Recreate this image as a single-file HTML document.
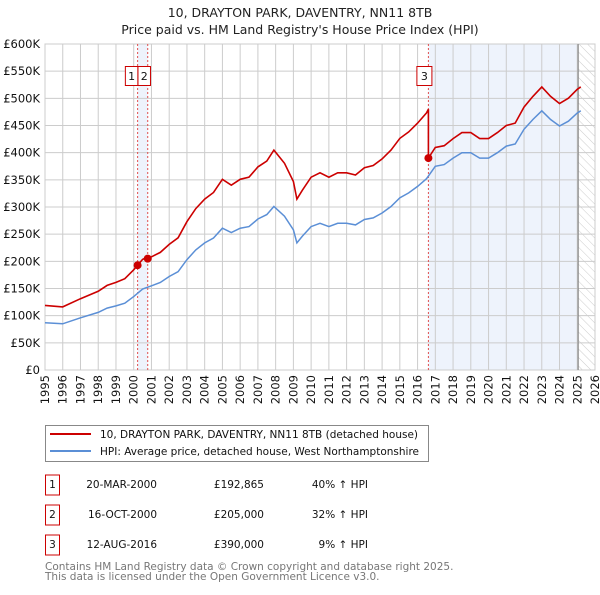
<!DOCTYPE html>
<html><head><meta charset="utf-8"><style>
body{margin:0;background:#fff;font-family:"Liberation Sans","DejaVu Sans",sans-serif}
svg text{font-family:"DejaVu Sans","Liberation Sans",sans-serif}
</style></head><body>
<svg id="chart" width="600" height="590" xmlns="http://www.w3.org/2000/svg">
<defs><pattern id="hatch" width="6" height="6" patternUnits="userSpaceOnUse" patternTransform="rotate(-45)"><line x1="0" y1="0" x2="0" y2="6" stroke="#ccc" stroke-width="1"/></pattern></defs>
<text x="300" y="17" text-anchor="middle" font-size="12.5" fill="#222">10, DRAYTON PARK, DAVENTRY, NN11 8TB</text>
<text x="300" y="34" text-anchor="middle" font-size="12.5" fill="#222">Price paid vs. HM Land Registry's House Price Index (HPI)</text>
<g id="plot"></g>
<g>
<rect x="45.5" y="425.5" width="383" height="36" fill="#fff" stroke="#888"/>
<line x1="50" y1="434" x2="91" y2="434" stroke="#cc0000" stroke-width="2"/>
<text x="100" y="438" font-size="10.5" fill="#111">10, DRAYTON PARK, DAVENTRY, NN11 8TB (detached house)</text>
<line x1="50" y1="451" x2="91" y2="451" stroke="#5b8fd6" stroke-width="2"/>
<text x="100" y="455" font-size="10.5" fill="#111">HPI: Average price, detached house, West Northamptonshire</text>
</g>
<g id="table" font-size="10.5" fill="#111"></g>
<text x="45" y="570" font-size="10.5" fill="#777">Contains HM Land Registry data © Crown copyright and database right 2025.</text>
<text x="45" y="580" font-size="10.5" fill="#777">This data is licensed under the Open Government Licence v3.0.</text>
</svg>
<script>
const hpiYears=[1995,1996,1997,1998,1998.5,1999,1999.5,2000,2000.5,2001,2001.5,2002,2002.5,2003,2003.5,2004,2004.5,2005,2005.5,2006,2006.5,2007,2007.5,2007.9,2008.5,2009,2009.2,2009.5,2010,2010.5,2011,2011.5,2012,2012.5,2013,2013.5,2014,2014.5,2015,2015.5,2016,2016.5,2017,2017.5,2018,2018.5,2019,2019.5,2020,2020.5,2021,2021.5,2022,2022.5,2023,2023.5,2024,2024.5,2025,2025.2];
const hpiValues=[87,85,96,106,114,118,123,135,149,155,161,172,181,203,221,234,243,261,253,261,264,278,286,301,283,258,234,246,264,270,264,270,270,267,277,280,289,301,317,326,338,352,375,378,390,400,400,390,390,400,412,416,443,461,477,461,449,458,473,477];
const saleDates=[2000.22,2000.79,2016.61];
const salePrices=[192865,205000,390000];
const saleLabels=["1","2","3"];
const saleDateText=["20-MAR-2000","16-OCT-2000","12-AUG-2016"];
const salePriceText=["£192,865","£205,000","£390,000"];
const saleHpiText=["40% ↑ HPI","32% ↑ HPI","9% ↑ HPI"];
const yTicks=[0,50,100,150,200,250,300,350,400,450,500,550,600];
const yTickLabels=["£0","£50K","£100K","£150K","£200K","£250K","£300K","£350K","£400K","£450K","£500K","£550K","£600K"];
const xTicks=[1995,1996,1997,1998,1999,2000,2001,2002,2003,2004,2005,2006,2007,2008,2009,2010,2011,2012,2013,2014,2015,2016,2017,2018,2019,2020,2021,2022,2023,2024,2025,2026];
const dataEnd=2025.05;

const L=45,R=595,T=44,B=370;
const X=y=>L+(y-1995)/(2026-1995)*(R-L);
const Y=v=>B-v/600*(B-T);
const NS="http://www.w3.org/2000/svg";
const plot=document.getElementById('plot');
function mk(tag,attrs,parent){const e=document.createElementNS(NS,tag);for(const k in attrs)e.setAttribute(k,attrs[k]);(parent||plot).appendChild(e);return e;}
function hpiAt(t){for(let i=0;i<hpiYears.length-1;i++){if(t<=hpiYears[i+1]){const f=(t-hpiYears[i])/(hpiYears[i+1]-hpiYears[i]);return hpiValues[i]+f*(hpiValues[i+1]-hpiValues[i]);}}return hpiValues[hpiValues.length-1];}

let b=mk('rect',{x:X(saleDates[0]),y:T,width:X(saleDates[1])-X(saleDates[0]),height:B-T,fill:'#eef3fc'});


b=mk('rect',{x:X(saleDates[2]),y:T,width:X(dataEnd)-X(saleDates[2]),height:B-T,fill:'#eef3fc'});


b=mk('rect',{x:X(dataEnd),y:T,width:R-X(dataEnd),height:B-T,fill:'url(#hatch)'});


yTicks.forEach((v,i)=>{
 let g=mk('line',{x1:L,x2:R,y1:Y(v),y2:Y(v),stroke:'#ccc','stroke-width':1});
 
 
 let t=mk('text',{x:40,y:Y(v)+4,'text-anchor':'end','font-size':11.5,fill:'#111'});t.textContent=yTickLabels[i];
 
 
});
xTicks.forEach(yr=>{
 let g=mk('line',{x1:X(yr),x2:X(yr),y1:T,y2:B,stroke:'#ccc','stroke-width':1});
 
 
 let t=mk('text',{x:X(yr)+4,y:B+5,'text-anchor':'end','font-size':11.5,fill:'#111',transform:`rotate(-90 ${X(yr)+4} ${B+5})`});t.textContent=yr;
 
 
});
let bx=mk('rect',{x:L,y:T,width:R-L,height:B-T,fill:'none',stroke:'#ccc'});


let el=mk('line',{x1:X(dataEnd),x2:X(dataEnd),y1:T,y2:B,stroke:'#888','stroke-width':1.2});


saleDates.forEach((d,i)=>{
 let l=mk('line',{x1:X(d),x2:X(d),y1:T,y2:B,stroke:'#e05050','stroke-width':1,'stroke-dasharray':'2,2'});
 
 
});
let pts=hpiYears.map((y,i)=>X(y).toFixed(1)+','+Y(hpiValues[i]).toFixed(1));
let hl=mk('polyline',{points:pts.join(' '),fill:'none',stroke:'#5b8fd6','stroke-width':1.5});


let rp=[];
const ratios=saleDates.map((d,i)=>salePrices[i]/1000/hpiAt(d));
function ratioAt(t){let r=ratios[0];for(let i=0;i<saleDates.length;i++)if(t>=saleDates[i])r=ratios[i];return r;}
let times=hpiYears.concat(saleDates).sort((a,b)=>a-b);
times.forEach(t=>{
 saleDates.forEach((d,i)=>{if(i>0&&Math.abs(t-d)<1e-9)rp.push(X(t).toFixed(1)+','+Y(hpiAt(t)*ratios[i-1]).toFixed(1));});
 rp.push(X(t).toFixed(1)+','+Y(hpiAt(t)*ratioAt(t)).toFixed(1));
});
let pl=mk('polyline',{points:rp.join(' '),fill:'none',stroke:'#cc0000','stroke-width':1.6});


const lblX=[-6,-3.5,-4];
saleDates.forEach((d,i)=>{
 let c=mk('circle',{cx:X(d),cy:Y(salePrices[i]/1000),r:4,fill:'#cc0000'});
 
 
});
saleDates.forEach((d,i)=>{
 const cx=X(d)+lblX[i];
 const w=i===2?15:12.5;
 let r=mk('rect',{x:cx-w/2,y:66.5,width:w,height:19,fill:'#fff',stroke:'#cc0000'});
 
 
 let t=mk('text',{x:cx,y:80,'text-anchor':'middle','font-size':11,fill:'#111'});t.textContent=saleLabels[i];
 
 
});
const tb=document.getElementById('table');
saleLabels.forEach((s,i)=>{
 const y=483+i*30;
 let r=mk('rect',{x:45.5,y:y-8,width:14,height:20,fill:'#fff',stroke:'#cc0000'},tb);
 
 
 let t=mk('text',{x:52.5,y:y+5,'text-anchor':'middle'},tb);t.textContent=s;
 
 
 t=mk('text',{x:157,y:y+5,'text-anchor':'end'},tb);t.textContent=saleDateText[i];
 
 
 t=mk('text',{x:264,y:y+5,'text-anchor':'end'},tb);t.textContent=salePriceText[i];
 
 
 t=mk('text',{x:368,y:y+5,'text-anchor':'end'},tb);t.textContent=saleHpiText[i];
 
 
});
</script>
</body></html>
